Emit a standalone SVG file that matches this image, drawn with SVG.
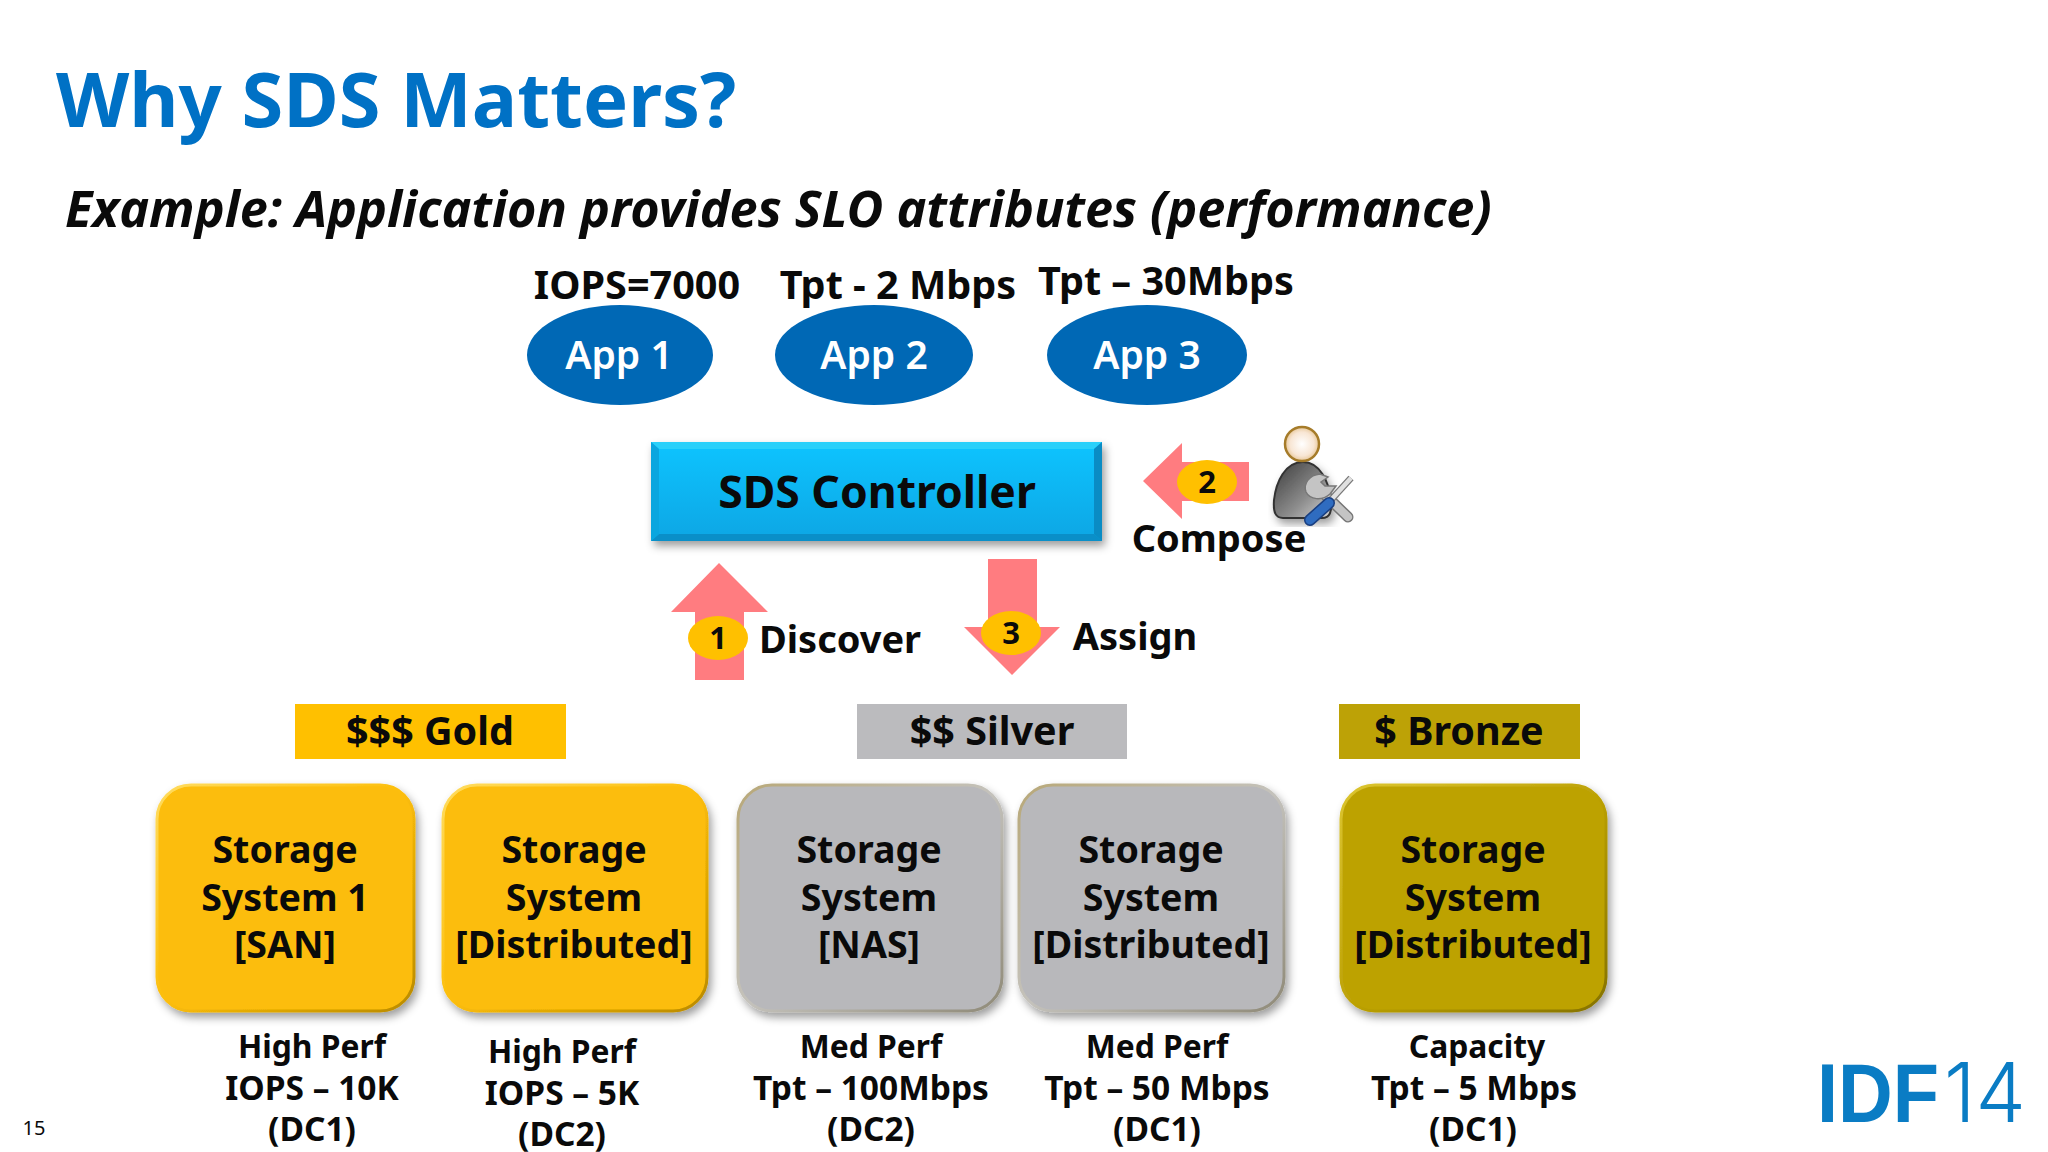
<svg xmlns="http://www.w3.org/2000/svg" width="2048" height="1152" viewBox="0 0 2048 1152">
<defs>
<style>
text{font-family:"Noto Sans","Open Sans",sans-serif;font-weight:700;fill:#0a0a0a;text-anchor:middle}
.l{font-size:37.6px}
.b{font-size:38px}
.tier{font-size:39.5px}
.s{font-size:33.5px}
.h{font-size:31.8px}
.t{font-size:39.6px}
.ar{fill:#ff7c80}
.bd{fill:#ffc000}
.n{font-size:31px}
.app{fill:#0068b5}
.appt{font-size:39px;fill:#fff;font-weight:600}
.gold{fill:#fcbd08;stroke:url(#goldE);stroke-width:3}
.silver{fill:#b8b8bb;stroke:url(#silverE);stroke-width:3}
.bronze{fill:#bda206;stroke:url(#bronzeE);stroke-width:3}
</style>
<linearGradient id="goldE" x1="0" y1="0" x2="1" y2="1"><stop offset="0" stop-color="#ffdc60"/><stop offset="0.5" stop-color="#fcbd08"/><stop offset="1" stop-color="#b98a00"/></linearGradient>
<linearGradient id="silverE" x1="0" y1="0" x2="1" y2="1"><stop offset="0" stop-color="#b8a878"/><stop offset="0.5" stop-color="#c4c2bc"/><stop offset="1" stop-color="#8f8a78"/></linearGradient>
<linearGradient id="bronzeE" x1="0" y1="0" x2="1" y2="1"><stop offset="0" stop-color="#dcc530"/><stop offset="0.5" stop-color="#bda206"/><stop offset="1" stop-color="#857200"/></linearGradient>
<linearGradient id="blue" x1="0" y1="0" x2="0" y2="1"><stop offset="0" stop-color="#08c4ff"/><stop offset="1" stop-color="#0aa6e4"/></linearGradient>
<linearGradient id="body" x1="0" y1="0" x2="1" y2="1"><stop offset="0" stop-color="#3a3a3a"/><stop offset="0.6" stop-color="#8d8d8d"/><stop offset="1" stop-color="#d5d5d5"/></linearGradient>
<radialGradient id="head"><stop offset="0" stop-color="#fff"/><stop offset="0.7" stop-color="#f8e6d4"/><stop offset="1" stop-color="#e8c89a"/></radialGradient>
<filter id="sh" x="-10%" y="-10%" width="125%" height="125%"><feDropShadow dx="3" dy="5" stdDeviation="4" flood-color="#000" flood-opacity="0.38"/></filter>
</defs>
<rect width="2048" height="1152" fill="#fff"/>
<text x="56" y="127" style="font-size:75.8px;fill:#0071c5;text-anchor:start">Why SDS Matters?</text>
<text x="65" y="227" style="font-size:50.4px;font-style:italic;text-anchor:start">Example: Application provides SLO attributes (performance)</text>

<text x="637" y="299" class="t">IOPS=7000</text>
<text x="898" y="299" class="t">Tpt - 2 Mbps</text>
<text x="1166" y="295" class="t">Tpt – 30Mbps</text>

<g id="app1"><ellipse cx="620" cy="355" rx="93" ry="50" class="app"/><text x="619" y="369" class="appt">App 1</text></g>
<g id="app2"><ellipse cx="874" cy="355" rx="99" ry="50" class="app"/><text x="874" y="369" class="appt">App 2</text></g>
<g id="app3"><ellipse cx="1147" cy="355" rx="100" ry="50" class="app"/><text x="1147" y="369" class="appt">App 3</text></g>

<g id="sds-controller">
<rect x="651" y="442" width="451" height="99" fill="url(#blue)" filter="url(#sh)"/>
<polygon points="651,442 1102,442 1094,449 659,449" fill="#2ad0fa"/>
<polygon points="651,541 1102,541 1094,534 659,534" fill="#0a8fc8"/>
<polygon points="651,442 659,449 659,534 651,541" fill="#0aa6df"/>
<polygon points="1102,442 1094,449 1094,534 1102,541" fill="#0a8cc4"/>
<text x="877" y="508" style="font-size:44.5px">SDS Controller</text>
</g>

<g id="connectors">
<polygon class="ar" points="719,563 768,612 744,612 744,680 695,680 695,612 671,612"/>
<polygon class="ar" points="988,559 1037,559 1037,627 1060,627 1012,675 964,627 988,627"/>
<polygon class="ar" points="1143,481 1182,443 1182,462 1249,462 1249,501 1182,501 1182,519"/>
</g>

<g id="badge1"><ellipse cx="718" cy="638" rx="30" ry="22" class="bd"/><text x="718" y="649" class="n">1</text></g>
<g id="badge2"><ellipse cx="1207" cy="482" rx="30" ry="22" class="bd"/><text x="1207" y="493" class="n">2</text></g>
<g id="badge3"><ellipse cx="1011" cy="633" rx="30" ry="22" class="bd"/><text x="1011" y="644" class="n">3</text></g>

<text x="840" y="653" class="b">Discover</text>
<text x="1135" y="650" class="b">Assign</text>
<text x="1219" y="552" class="b">Compose</text>

<g id="admin">
<path d="M1303,462 C1285,462 1276,482 1274,500 C1273,513 1276,518 1283,518 L1322,518 C1330,518 1332,512 1331,500 C1329,482 1320,462 1303,462 Z" fill="url(#body)" stroke="#333" stroke-width="2" filter="url(#sh)"/>
<circle cx="1302" cy="444" r="17" fill="url(#head)" stroke="#a67c2a" stroke-width="2.5"/>
<line x1="1320" y1="490" x2="1348" y2="517" stroke="#777" stroke-width="11" stroke-linecap="round"/>
<line x1="1320" y1="490" x2="1348" y2="517" stroke="#c4c4c4" stroke-width="8" stroke-linecap="round"/>
<path d="M1320,474 C1309,475 1303,484 1306,492 C1310,500 1322,501 1330,494 L1336,486 L1325,486 L1321,482 L1328,477 Z" fill="#c4c4c4" stroke="#777" stroke-width="1.5"/>
<line x1="1351" y1="478" x2="1330" y2="501" stroke="#777" stroke-width="7"/>
<line x1="1351" y1="478" x2="1330" y2="501" stroke="#e0e0e0" stroke-width="4.5"/>
<line x1="1329" y1="503" x2="1310" y2="520" stroke="#1a3f80" stroke-width="12" stroke-linecap="round"/>
<line x1="1329" y1="503" x2="1310" y2="520" stroke="#2f6cc0" stroke-width="9" stroke-linecap="round"/>
</g>

<g id="tier-gold"><rect x="295" y="704" width="271" height="55" fill="#ffc000"/><text x="430" y="745" class="tier">$$$ Gold</text></g>
<g id="tier-silver"><rect x="857" y="704" width="270" height="55" fill="#bbbbbe"/><text x="992" y="745" class="tier">$$ Silver</text></g>
<g id="tier-bronze"><rect x="1339" y="704" width="241" height="55" fill="#bda206"/><text x="1459" y="745" class="tier">$ Bronze</text></g>

<g id="storage1"><rect x="157" y="785" width="257" height="226" rx="34" class="gold" filter="url(#sh)"/>
<text x="285" y="863" class="l">Storage</text><text x="285" y="911" class="l">System 1</text><text x="285" y="958" class="l">[SAN]</text></g>
<g id="storage2"><rect x="443" y="785" width="264" height="226" rx="34" class="gold" filter="url(#sh)"/>
<text x="574" y="863" class="l">Storage</text><text x="574" y="911" class="l">System</text><text x="574" y="958" class="l">[Distributed]</text></g>
<g id="storage3"><rect x="738" y="785" width="264" height="226" rx="34" class="silver" filter="url(#sh)"/>
<text x="869" y="863" class="l">Storage</text><text x="869" y="911" class="l">System</text><text x="869" y="958" class="l">[NAS]</text></g>
<g id="storage4"><rect x="1019" y="785" width="265" height="226" rx="34" class="silver" filter="url(#sh)"/>
<text x="1151" y="863" class="l">Storage</text><text x="1151" y="911" class="l">System</text><text x="1151" y="958" class="l">[Distributed]</text></g>
<g id="storage5"><rect x="1341" y="785" width="265" height="226" rx="34" class="bronze" filter="url(#sh)"/>
<text x="1473" y="863" class="l">Storage</text><text x="1473" y="911" class="l">System</text><text x="1473" y="958" class="l">[Distributed]</text></g>

<text x="312" y="1058" class="h">High Perf</text><text x="312" y="1100" class="s">IOPS – 10K</text><text x="312" y="1141" class="s">(DC1)</text>
<text x="562" y="1063" class="h">High Perf</text><text x="562" y="1105" class="s">IOPS – 5K</text><text x="562" y="1146" class="s">(DC2)</text>
<text x="871" y="1058" class="h">Med Perf</text><text x="871" y="1100" class="s">Tpt – 100Mbps</text><text x="871" y="1141" class="s">(DC2)</text>
<text x="1157" y="1058" class="h">Med Perf</text><text x="1157" y="1100" class="s">Tpt – 50 Mbps</text><text x="1157" y="1141" class="s">(DC1)</text>
<text x="1477" y="1058" class="h">Capacity</text><text x="1474" y="1100" class="s">Tpt – 5 Mbps</text><text x="1473" y="1141" class="s">(DC1)</text>

<text x="34" y="1135" style="font-size:20px;font-weight:400">15</text>
<text x="1817" y="1122" textLength="122" lengthAdjust="spacingAndGlyphs" style="font-size:84px;fill:#0a7cc4;text-anchor:start;font-family:'Liberation Sans',sans-serif">IDF</text>
<text x="1944" y="1122" textLength="82" lengthAdjust="spacingAndGlyphs" style="font-size:82px;font-weight:300;fill:#0a7cc4;text-anchor:start;font-family:Inter,sans-serif">14</text>
</svg>
